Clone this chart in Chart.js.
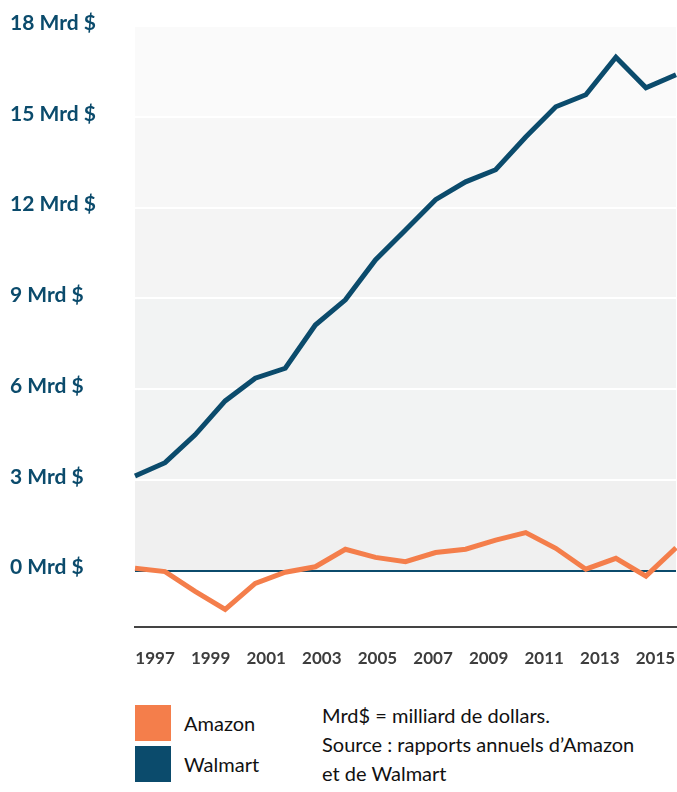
<!DOCTYPE html>
<html>
<head>
<meta charset="utf-8">
<script src="https://cdn.jsdelivr.net/npm/chart.js@4/dist/chart.umd.min.js"></script>
<style>
  html, body { margin: 0; padding: 0; background: #ffffff; }
  #wrap { position: relative; width: 677px; height: 792px; font-family: Lato, "Open Sans", sans-serif; }
  #chartBox { position: absolute; left: 0; top: 0; width: 677px; height: 690px; }
  .box { position: absolute; left: 135px; width: 36px; height: 36px; }
  .lbl { position: absolute; left: 184px; font-size: 20px; line-height: 24px; color: #111; }
  #notes { position: absolute; left: 322px; top: 701px; font-size: 20px; line-height: 29px; color: #111; }
</style>
</head>
<body>
<div id="wrap">
  <div id="chartBox"><canvas id="c"></canvas></div>
  <div class="box" style="top:705px;background:#f47e4b"></div>
  <div class="lbl" style="top:711px">Amazon</div>
  <div class="box" style="top:746px;background:#0b4b6c"></div>
  <div class="lbl" style="top:752px">Walmart</div>
  <div id="notes">Mrd$ = milliard de dollars.<br>Source : rapports annuels d’Amazon<br>et de Walmart</div>
</div>
<script>
// ---- data ----
const categories = ['1997','1998','1999','2000','2001','2002','2003','2004','2005','2006','2007','2008','2009','2010','2011','2012','2013','2014','2015'];
const walmart = [3.13, 3.57, 4.49, 5.61, 6.36, 6.69, 8.12, 8.95, 10.27, 11.26, 12.26, 12.85, 13.25, 14.33, 15.33, 15.73, 16.97, 15.96, 16.39];
const amazon  = [0.08, -0.03, -0.68, -1.28, -0.42, -0.05, 0.13, 0.71, 0.44, 0.30, 0.60, 0.71, 1.01, 1.26, 0.74, 0.05, 0.41, -0.18, 0.76];
const xTickYears = [1997, 1999, 2001, 2003, 2005, 2007, 2009, 2011, 2013, 2015];
const yTicks = [0, 3, 6, 9, 12, 15, 18];
const bandColors = ['#f0f0f0', '#f2f3f3', '#f2f3f3', '#f4f4f4', '#f7f7f7', '#fafafa'];

const NAVY = '#0b4b6c';
const ORANGE = '#f47e4b';

const bandsPlugin = {
  id: 'bands',
  beforeDraw(chart) {
    const { ctx, chartArea } = chart;
    const y = chart.scales.y;
    ctx.save();
    for (let i = 0; i < yTicks.length - 1; i++) {
      const top = y.getPixelForValue(yTicks[i + 1]);
      const bot = y.getPixelForValue(yTicks[i]);
      ctx.fillStyle = bandColors[i];
      ctx.fillRect(chartArea.left, top, chartArea.right - chartArea.left, bot - top);
    }
    ctx.restore();
  }
};

new Chart(document.getElementById('c'), {
  type: 'line',
  data: {
    labels: categories,
    datasets: [
      { label: 'Walmart', data: walmart, borderColor: NAVY, borderWidth: 5, pointRadius: 0, tension: 0, borderJoinStyle: 'miter', fill: false },
      { label: 'Amazon', data: amazon, borderColor: ORANGE, borderWidth: 5, pointRadius: 0, tension: 0, borderJoinStyle: 'miter', fill: false }
    ]
  },
  options: {
    responsive: true,
    maintainAspectRatio: false,
    animation: false,
    events: [],
    layout: { padding: { left: 10, right: 1, top: 26, bottom: 0 } },
    plugins: { legend: { display: false }, tooltip: { enabled: false } },
    scales: {
      x: {
        type: 'category',
        display: false,
        offset: false
      },
      xt: {
        type: 'linear',
        position: 'bottom',
        min: 1996.28,
        max: 2015.74,
        afterBuildTicks(scale) { scale.ticks = xTickYears.map(v => ({ value: v })); },
        afterFit(scale) { scale.height = 63; scale.paddingLeft = 0; scale.paddingRight = 0; },
        grid: { display: false, drawTicks: false },
        border: { display: true, color: '#444444', width: 2 },
        ticks: {
          padding: 21,
          autoSkip: false,
          maxRotation: 0,
          color: '#3d3d3d',
          font: { family: 'Lato', weight: 'bold', size: 17 },
          callback: v => String(v)
        }
      },
      y: {
        type: 'linear',
        min: -1.86,
        max: 18,
        afterBuildTicks(scale) { scale.ticks = yTicks.map(v => ({ value: v })); },
        afterFit(scale) { scale.width = 125; scale.paddingTop = 0; scale.paddingBottom = 0; },
        border: { display: false },
        grid: {
          drawTicks: false,
          color: ctx => (ctx.tick && ctx.tick.value === 0) ? NAVY : '#ffffff',
          lineWidth: 2
        },
        ticks: {
          crossAlign: 'far',
          padding: 0,
          labelOffset: -3,
          color: NAVY,
          font: { family: 'Lato', weight: 'bold', size: 21 },
          callback: v => v + ' Mrd $'
        }
      }
    }
  },
  plugins: [bandsPlugin]
});
</script>
</body>
</html>
